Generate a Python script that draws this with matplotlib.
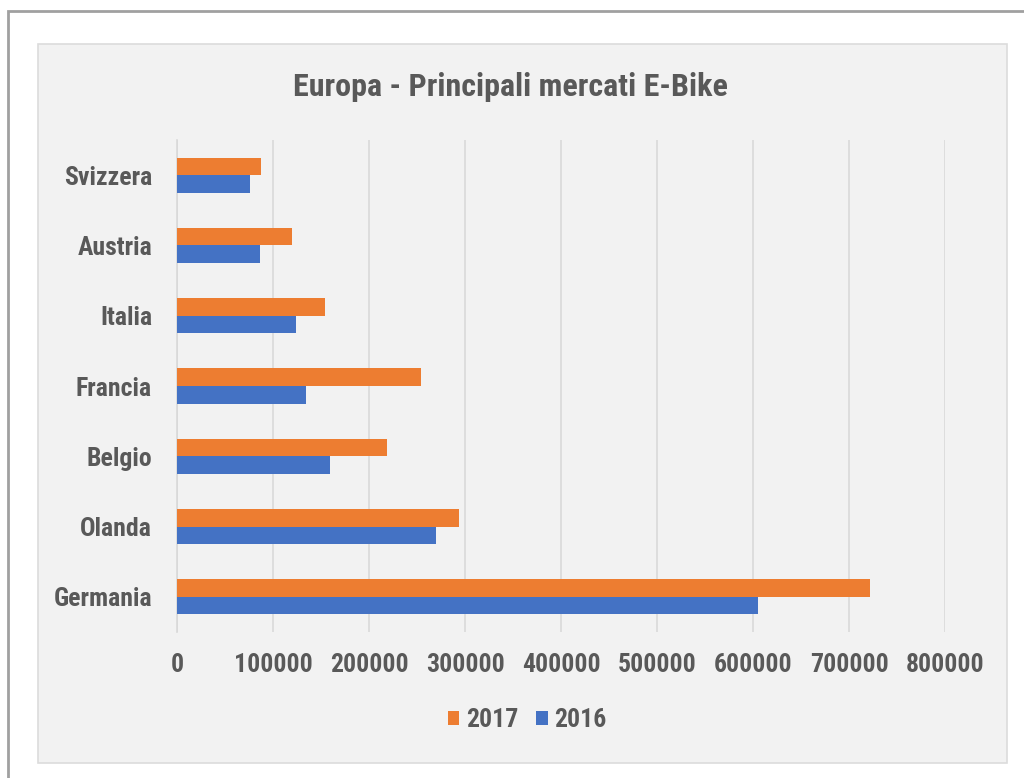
import matplotlib.pyplot as plt
import matplotlib.patches as patches
import matplotlib.font_manager as fm

# Data
countries = ["Germania", "Olanda", "Belgio", "Francia", "Italia", "Austria", "Svizzera"]
sales_2017 = [722000, 294000, 219000, 254000, 154000, 120000, 88000]
sales_2016 = [605000, 270000, 159000, 134000, 124000, 86000, 76000]
series_labels = ["2017", "2016"]
x_ticks = [0, 100000, 200000, 300000, 400000, 500000, 600000, 700000, 800000]

ORANGE = "#ED7D31"
BLUE = "#4472C4"
TEXT = "#595959"
GRID = "#D9D9D9"


def pick_font():
    # look for a narrow / condensed bold face (Arial Narrow look-alike)
    fonts = fm.fontManager.ttflist
    for key in ["Liberation Sans Narrow", "Arial Narrow", "Roboto Condensed"]:
        for f in fonts:
            if f.name == key:
                return f.name, "normal", False
    for f in fonts:
        if f.name == "DejaVu Sans" and "condensed" in str(f.stretch):
            return "DejaVu Sans", "condensed", False
    for f in fonts:
        if "Narrow" in f.name or "Condensed" in f.name:
            return f.name, "normal", False
    return "Liberation Sans", "normal", True


def main():
    family, stretch, wide = pick_font()
    plt.rcParams['font.family'] = [family, "DejaVu Sans"]
    plt.rcParams['font.stretch'] = stretch
    plt.rcParams['font.weight'] = 'bold'
    scale = 0.82 if wide else 1.0
    lab_size = 18.5 * scale
    title_size = 23 * scale

    W, H = 1024, 778
    fig = plt.figure(figsize=(W / 100, H / 100), dpi=100)
    fig.patch.set_facecolor("white")

    # outer frame (runs off the right and bottom edges)
    frame = patches.Rectangle((8 / W, -0.1), 1.2, 1 - 11 / H + 0.1,
                              transform=fig.transFigure, fill=False,
                              edgecolor="#A0A0A0", linewidth=2, zorder=-2)
    fig.patches.append(frame)

    # chart area panel
    panel = patches.Rectangle((38 / W, 1 - 763 / H), (1007 - 38) / W, (763 - 44) / H,
                              transform=fig.transFigure, facecolor="#F2F2F2",
                              edgecolor="#DCDCDC", linewidth=1.2, zorder=-1)
    fig.patches.append(panel)

    ax = fig.add_axes([177 / W, 1 - 632 / H, (945 - 177) / W, (632 - 140) / H])
    ax.set_facecolor("none")
    ax.set_zorder(2)

    y = list(range(len(countries)))
    h = 0.25
    ax.barh([v + h / 2 for v in y], sales_2017, height=h, color=ORANGE,
            label=series_labels[0], zorder=3)
    ax.barh([v - h / 2 for v in y], sales_2016, height=h, color=BLUE,
            label=series_labels[1], zorder=3)

    ax.set_xticks(x_ticks)
    ax.set_xticklabels([str(t) for t in x_ticks])
    ax.set_xlim(x_ticks[0], x_ticks[-1])
    ax.set_ylim(-0.5, len(countries) - 0.5)
    ax.set_yticks(y)
    ax.set_yticklabels(countries)

    ax.grid(axis="x", color=GRID, linewidth=1.2, zorder=0)
    for s in ["top", "right", "bottom"]:
        ax.spines[s].set_visible(False)
    ax.spines["left"].set_color(GRID)
    ax.spines["left"].set_linewidth(1.2)

    ax.tick_params(axis="both", length=0, labelcolor=TEXT, labelsize=lab_size)
    ax.tick_params(axis="x", pad=15)
    ax.tick_params(axis="y", pad=18)

    fig.text(510 / W, 1 - 87 / H, "Europa - Principali mercati E-Bike",
             ha="center", va="center", fontsize=title_size, fontweight="bold",
             color=TEXT, zorder=3)

    leg = fig.legend(loc="center", bbox_to_anchor=(527 / W, 1 - 720 / H),
                     ncol=2, frameon=False, fontsize=lab_size,
                     handlelength=0.45, handleheight=0.45,
                     handletextpad=0.25, columnspacing=0.7)
    leg.set_zorder(3)
    for t in leg.get_texts():
        t.set_color(TEXT)

    fig.savefig("out.png", dpi=100)


if __name__ == "__main__":
    main()
